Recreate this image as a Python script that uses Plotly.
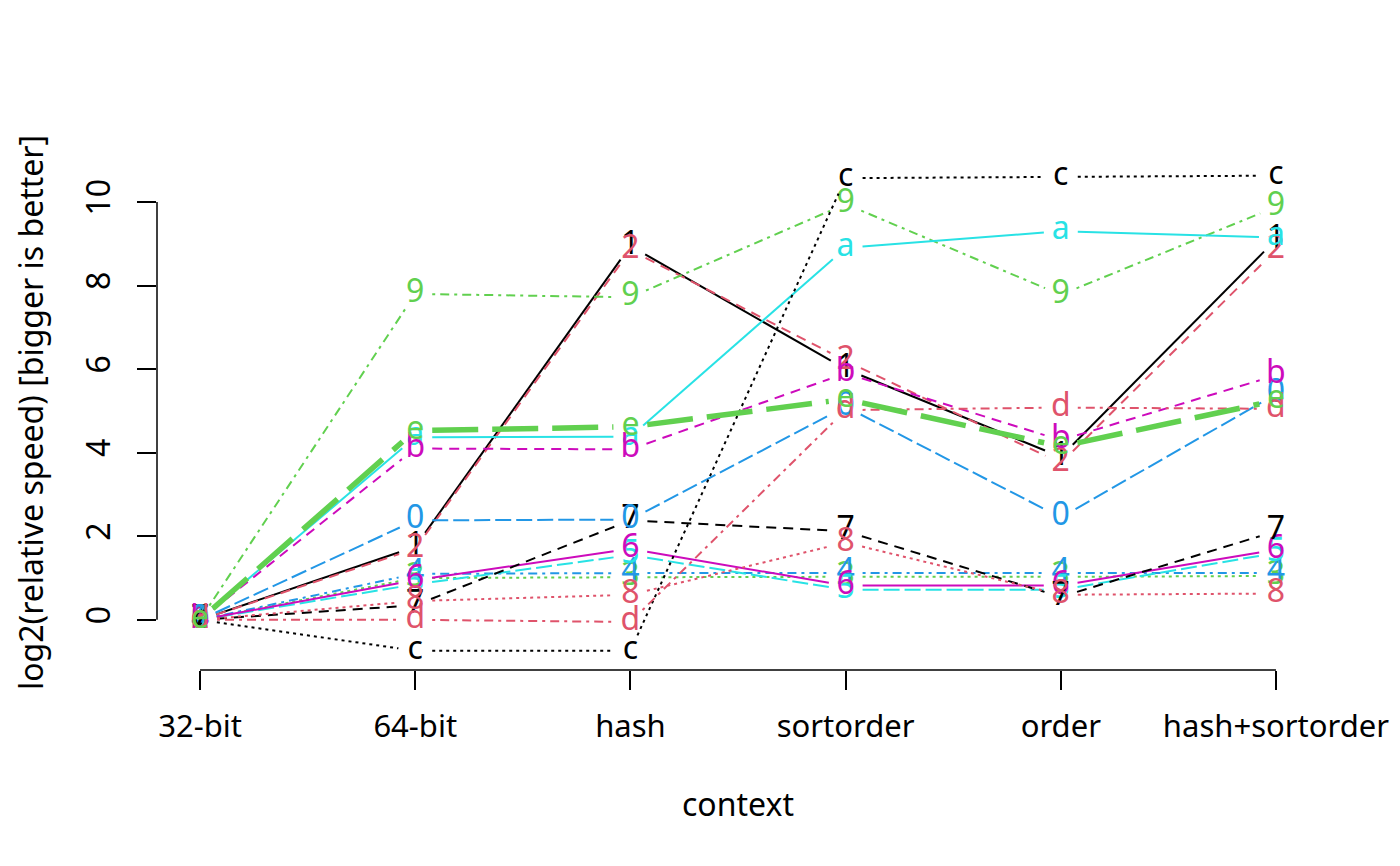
import math
import plotly.graph_objects as go

# contexts on the x axis
contexts = ["32-bit", "64-bit", "hash", "sortorder", "order", "hash+sortorder"]

# log2(relative speed) per benchmark, one list per series (label = plotting character)
s1 = [0, 1.75, 8.95, 6.0, 3.9, 9.1]
s2 = [0, 1.7, 8.85, 6.2, 3.75, 8.85]
s3 = [0, 1.0, 1.02, 1.03, 1.03, 1.05]
s4 = [0, 1.1, 1.12, 1.12, 1.12, 1.12]
s5 = [0, 0.85, 1.55, 0.72, 0.72, 1.6]
s6 = [0, 0.95, 1.7, 0.82, 0.82, 1.68]
s7 = [0, 0.35, 2.38, 2.12, 0.55, 2.12]
s8 = [0, 0.45, 0.6, 1.85, 0.6, 0.63]
s9 = [0, 7.8, 7.72, 9.95, 7.78, 9.88]
s0 = [0, 2.38, 2.4, 5.1, 2.45, 5.4]
sa = [0, 4.37, 4.38, 8.9, 9.3, 9.15]
sb = [0, 4.1, 4.08, 5.9, 4.3, 5.85]
sc = [0, -0.74, -0.74, 10.57, 10.6, 10.63]
sd = [0, 0.0, -0.05, 5.02, 5.08, 5.05]
se = [0, 4.53, 4.62, 5.28, 4.15, 5.25]

labels = ["1", "2", "3", "4", "5", "6", "7", "8", "9", "0", "a", "b", "c", "d", "e"]
series = [s1, s2, s3, s4, s5, s6, s7, s8, s9, s0, sa, sb, sc, sd, se]

yticks = [0, 2, 4, 6, 8, 10]

# R palette / line types, recycled like matplot does
palette = ["#000000", "#DF536B", "#61D04F", "#2297E6", "#28E2E5", "#CD0BBC"]
dashes = ["solid", "10px,7px", "3px,4px", "3px,5px,9px,5px", "16px,5px"]

# page body has an 8px margin, so the figure is a bit smaller than the window
W, H = 1384, 850
ML, MR, MT, MB = 149, 73, 148, 188
xr = [0.8, 6.2]
yr = [-1.2, 11.1]
XPPU = (W - ML - MR) / (xr[1] - xr[0])
YPPU = (H - MT - MB) / (yr[1] - yr[0])

FONT = "Noto Sans"
FS = 32
xs = list(range(1, len(contexts) + 1))


def gapped(x, y, g=17):
    # type="b": leave a gap around each point, like R does
    gx, gy = [], []
    for i in range(len(x) - 1):
        dx = (x[i + 1] - x[i]) * XPPU
        dy = (y[i + 1] - y[i]) * YPPU
        L = math.hypot(dx, dy)
        if L <= 2 * g:
            continue
        ux, uy = dx / L * g / XPPU, dy / L * g / YPPU
        gx += [x[i] + ux, x[i + 1] - ux, None]
        gy += [y[i] + uy, y[i + 1] - uy, None]
    return gx, gy


fig = go.Figure()
for i, (lab, vals) in enumerate(zip(labels, series)):
    col = palette[i % 6]
    dash = dashes[i % 5]
    width = 2
    if lab == "e":
        dash = "46px,14px"
        width = 5.5
    gx, gy = gapped(xs, vals)
    fig.add_trace(go.Scatter(x=gx, y=gy, mode="lines",
                             line=dict(color=col, width=width, dash=dash),
                             hoverinfo="skip", showlegend=False))
    fig.add_trace(go.Scatter(x=xs, y=vals, mode="text", text=[lab] * len(xs),
                             textposition="middle center",
                             textfont=dict(family=FONT, size=FS, color=col),
                             cliponaxis=False, hoverinfo="skip", showlegend=False))

# R style detached axis lines
fig.add_shape(type="line", xref="paper", yref="y", x0=0, x1=0, y0=yticks[0], y1=yticks[-1],
              line=dict(color="black", width=1.5))
fig.add_shape(type="line", xref="x", yref="paper", x0=xs[0], x1=xs[-1], y0=0, y1=0,
              line=dict(color="black", width=1.5))

fig.add_annotation(text="context", xref="paper", yref="paper", x=0.5, y=0, yshift=-133,
                   showarrow=False, font=dict(family=FONT, size=FS, color="black"),
                   yanchor="middle")
fig.add_annotation(text="log2(relative speed) [bigger is better]", xref="paper", yref="paper",
                   x=0, y=0.5, xshift=-127, textangle=-90, showarrow=False,
                   font=dict(family=FONT, size=FS, color="black"), xanchor="center")

fig.update_layout(
    width=W, height=H, autosize=False,
    margin=dict(l=ML, r=MR, t=MT, b=MB, autoexpand=False),
    plot_bgcolor="white", paper_bgcolor="white",
    font=dict(family=FONT, size=FS, color="black"),
    xaxis=dict(range=xr, tickvals=xs, ticktext=contexts, showgrid=False, zeroline=False,
               showline=False, ticks="outside", ticklen=19, tickwidth=1.5, tickcolor="black",
               ticklabelstandoff=10, ticklabeloverflow="allow", automargin=False,
               tickfont=dict(family=FONT, size=31, color="black")),
    yaxis=dict(range=yr, tickvals=yticks, showgrid=False, zeroline=False, showline=False,
               ticks="outside", ticklen=19, tickwidth=1.5, tickcolor="black",
               tickangle=-90, ticklabelstandoff=14, automargin=False),
)

fig.write_html("out.html")
